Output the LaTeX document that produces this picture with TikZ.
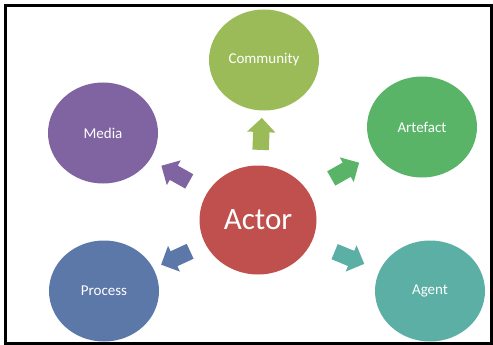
\documentclass[tikz,border=0pt]{standalone}
\usepackage{fontspec}
\setmainfont{Carlito}
\usetikzlibrary{shapes.geometric,shapes.arrows}
\definecolor{actorred}{HTML}{C0504D}
\definecolor{communitygreen}{HTML}{9BBB59}
\definecolor{artefactgreen}{HTML}{5AB467}
\definecolor{mediapurple}{HTML}{8064A2}
\definecolor{processblue}{HTML}{5C78A9}
\definecolor{agentteal}{HTML}{5BAFA5}
\tikzset{
	bubble/.style={ellipse,fill=#1,draw=none,text=white,minimum width=110pt,minimum height=101pt,inner sep=0pt,font=\fontsize{15}{17}\selectfont},
	push/.style={single arrow,fill=#1,draw=none,minimum height=32pt,inner xsep=0pt,inner ysep=8pt,single arrow head extend=6pt,single arrow head indent=0pt,sloped,allow upside down}
}
\begin{document}
\begin{tikzpicture}[x=1pt,y=-1pt]
		\useasboundingbox (0,0) rectangle (493,345);
		\draw[line width=2.5pt] (5.5,5.5) rectangle (491.5,343.5);
		\node[bubble=actorred,minimum width=117pt,minimum height=109pt,font=\fontsize{31}{35}\selectfont] (actor) at (258,220) {Actor};
		\node[bubble=communitygreen] (community) at (264,60) {Community};
		\node[bubble=mediapurple] (media) at (103,133) {Media};
		\node[bubble=artefactgreen] (artefact) at (422,127) {Artefact};
		\node[bubble=processblue] (process) at (104,291) {Process};
		\node[bubble=agentteal] (agent) at (430,291) {Agent};
		% block arrows out of the centre
		\path (actor) -- node[push=communitygreen]{} (community);
		\path (actor) -- node[push=mediapurple]{} (media);
		\path (actor) -- node[push=artefactgreen]{} (artefact);
		\path (actor) -- node[push=processblue]{} (process);
		\path (actor) -- node[push=agentteal]{} (agent);
	\end{tikzpicture}
\end{document}
